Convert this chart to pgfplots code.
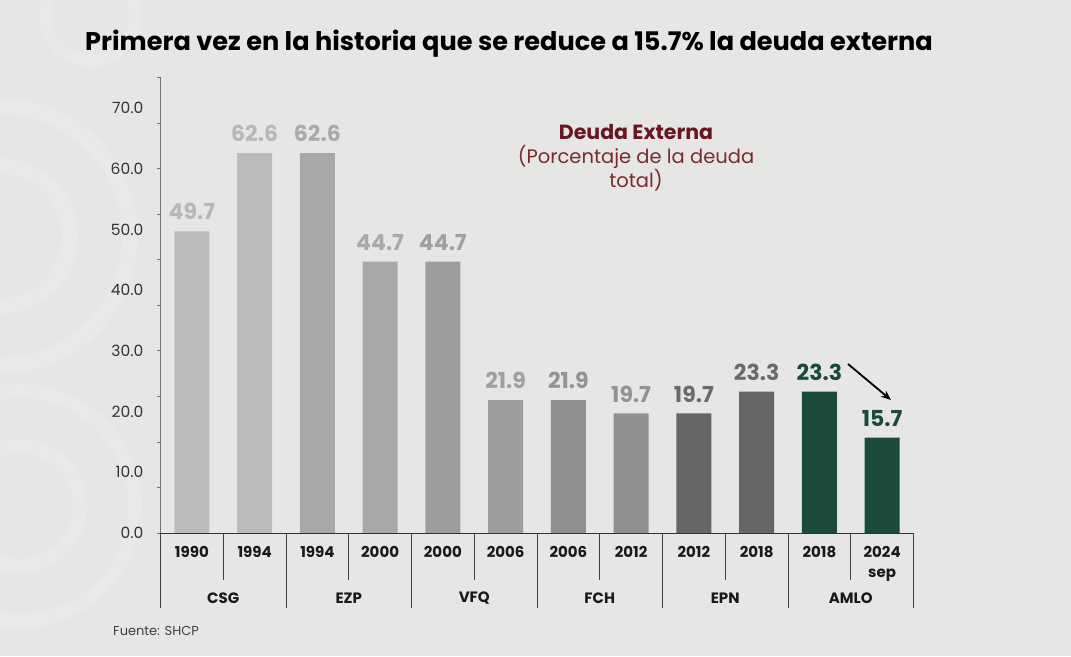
\documentclass[border=0pt]{standalone}
\usepackage{pgfplots}
\pgfplotsset{compat=1.18}
\usepackage{fontspec}
\setmainfont{Poppins}
\usetikzlibrary{arrows.meta}
\definecolor{bg}{HTML}{E6E6E5}
\definecolor{cA}{HTML}{BBBBBB}
\definecolor{cB}{HTML}{A8A8A8}
\definecolor{cC}{HTML}{9D9D9D}
\definecolor{cD}{HTML}{8F8F8F}
\definecolor{cE}{HTML}{666666}
\definecolor{cF}{HTML}{1B4A3C}
\definecolor{lA}{HTML}{B8B8B8}
\definecolor{lB}{HTML}{AAAAAA}
\definecolor{lC}{HTML}{A0A0A0}
\definecolor{lD}{HTML}{939393}
\definecolor{lE}{HTML}{6A6A6A}
\definecolor{maroon}{HTML}{6B1520}
\definecolor{maroonl}{HTML}{7B2B2B}
\begin{document}
\begin{tikzpicture}[x=1pt,y=1pt]
\fill[bg] (0,0) rectangle (1071,656);
\begin{scope}
\clip (0,0) rectangle (175,656);
\draw[white, opacity=0.14, line width=16pt] (0,420) circle (70);
\draw[white, opacity=0.14, line width=16pt] (0,420) circle (130);
\draw[white, opacity=0.12, line width=14pt] (20,150) circle (60);
\draw[white, opacity=0.12, line width=14pt] (20,150) circle (115);
\draw[white, opacity=0.12, line width=12pt] (90,640) circle (45);
\end{scope}
\node[anchor=base west, inner sep=0pt, font=\bfseries\fontsize{25.6}{25.6}\selectfont, text=black] at (85,605) {Primera vez en la historia que se reduce a 15.7\% la deuda externa};
\begin{axis}[
  at={(160.5pt,123pt)}, anchor=south west,
  scale only axis, width=753pt, height=455.25pt,
  xmin=-0.5, xmax=11.5, ymin=0, ymax=75,
  clip=false,
  axis x line=bottom, axis y line=left,
  x axis line style={-, draw=black!80, line width=0.9pt},
  y axis line style={-, draw=black!55, line width=0.9pt},
  /pgf/number format/assume math mode=true,
  ytick={0,10,...,70},
  minor ytick={0,7.5,...,75},
  major tick length=0pt, minor tick length=4pt,
  tick align=outside,
  minor tick style={draw=black!55, line width=0.8pt},
  yticklabel style={font=\fontsize{15.5}{15.5}\selectfont, text=black!80, anchor=east, inner sep=0pt, xshift=-17pt,
    /pgf/number format/.cd, fixed, fixed zerofill, precision=1},
  xtick={0,...,11},
  xticklabels={1990,1994,1994,2000,2000,2006,2006,2012,2012,2018,2018,{2024\\sep}},
  xticklabel style={font=\bfseries\fontsize{15}{20}\selectfont, align=center, anchor=north, inner sep=0pt, yshift=-13pt, text=black!90},
  nodes near coords={\pgfmathprintnumber[fixed,fixed zerofill,precision=1]{\pgfplotspointmeta}},
  every node near coord/.append style={font=\bfseries\fontsize{22}{22}\selectfont, inner sep=0pt, yshift=11pt},
]
\addplot[ybar, bar width=35pt, fill=cA, draw=none, every node near coord/.append style={text=lA}] coordinates {(0,49.7) (1,62.6)};
\addplot[ybar, bar width=35pt, fill=cB, draw=none, every node near coord/.append style={text=lB}] coordinates {(2,62.6) (3,44.7)};
\addplot[ybar, bar width=35pt, fill=cC, draw=none, every node near coord/.append style={text=lC}] coordinates {(4,44.7) (5,21.9)};
\addplot[ybar, bar width=35pt, fill=cD, draw=none, every node near coord/.append style={text=lD}] coordinates {(6,21.9) (7,19.7)};
\addplot[ybar, bar width=35pt, fill=cE, draw=none, every node near coord/.append style={text=lE}] coordinates {(8,19.7) (9,23.3)};
\addplot[ybar, bar width=35pt, fill=cF, draw=none, every node near coord/.append style={text=cF}] coordinates {(10,23.3) (11,15.7)};
% separators
\pgfplotsinvokeforeach{0.5,2.5,4.5,6.5,8.5,10.5}{\draw[black!75, line width=0.8pt] (axis cs:#1,0) -- ++(0pt,-47pt);}
\pgfplotsinvokeforeach{-0.5,1.5,3.5,5.5,7.5,9.5,11.5}{\draw[black!75, line width=0.8pt] (axis cs:#1,0) -- ++(0pt,-75pt);}
% group labels
\node[font=\bfseries\fontsize{15}{15}\selectfont, text=black!90, inner sep=0pt] at ([yshift=-65pt]axis cs:0.5,0) {CSG};
\node[font=\bfseries\fontsize{15}{15}\selectfont, text=black!90, inner sep=0pt] at ([yshift=-65pt]axis cs:2.5,0) {EZP};
\node[font=\bfseries\fontsize{15}{15}\selectfont, text=black!90, inner sep=0pt] at ([yshift=-65pt]axis cs:4.5,0) {VFQ};
\node[font=\bfseries\fontsize{15}{15}\selectfont, text=black!90, inner sep=0pt] at ([yshift=-65pt]axis cs:6.5,0) {FCH};
\node[font=\bfseries\fontsize{15}{15}\selectfont, text=black!90, inner sep=0pt] at ([yshift=-65pt]axis cs:8.5,0) {EPN};
\node[font=\bfseries\fontsize{15}{15}\selectfont, text=black!90, inner sep=0pt] at ([yshift=-65pt]axis cs:10.5,0) {AMLO};
\end{axis}
\node[align=center, font=\fontsize{19.5}{24}\selectfont, text=maroonl, anchor=base, inner sep=0pt] at (636,468) {{\bfseries\fontsize{20.5}{24}\selectfont\color{maroon}Deuda Externa}\\(Porcentaje de la deuda\\total)};
\draw[-{Stealth[length=10pt,width=8pt]}, line width=1.8pt, black] (848,292) -- (891,256);
\node[anchor=base west, inner sep=0pt, font=\fontsize{13}{13}\selectfont, text=black!75] at (113,20) {Fuente: SHCP};
\end{tikzpicture}
\end{document}
